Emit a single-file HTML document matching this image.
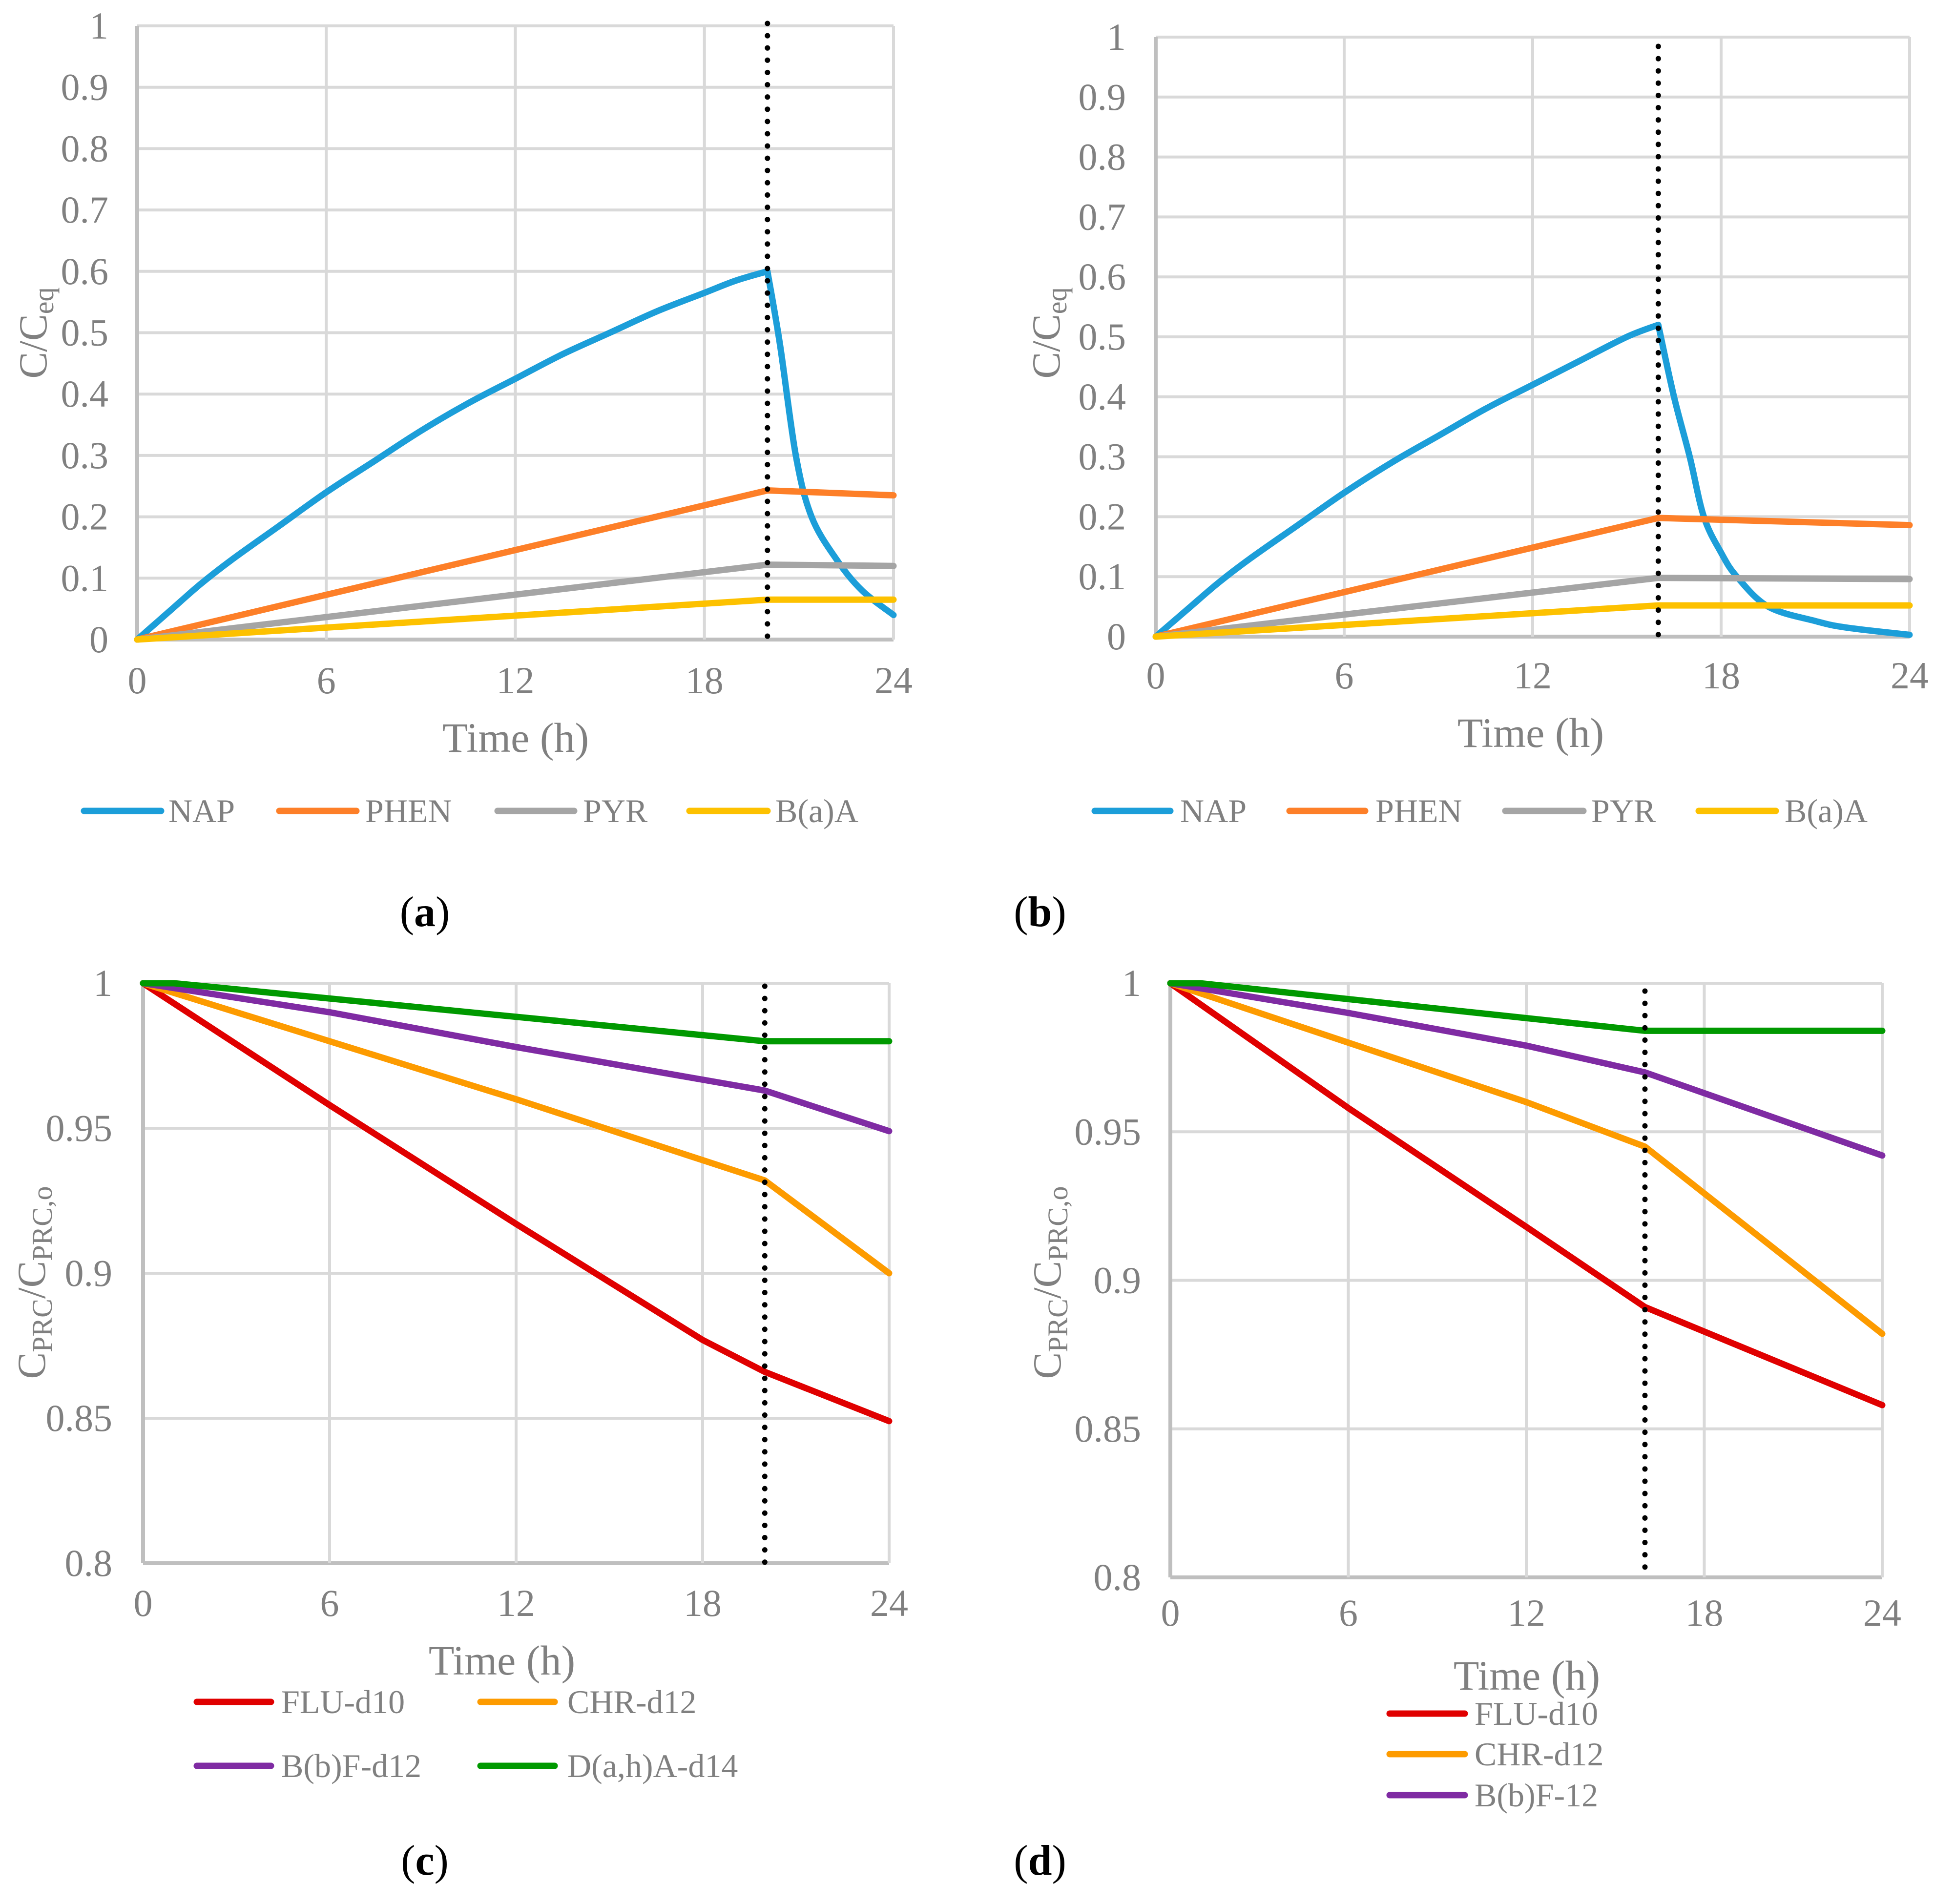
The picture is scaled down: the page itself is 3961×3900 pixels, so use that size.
<!DOCTYPE html>
<html><head><meta charset="utf-8">
<style>
html,body{margin:0;padding:0;background:#fff;}
svg, svg text{font-family:"Liberation Serif","Times New Roman",serif;}
</style></head>
<body>
<svg id="fig" width="3961" height="3895" viewBox="0 0 3961 3895" xmlns="http://www.w3.org/2000/svg" font-family="Liberation Serif, serif"></svg>
<script>
// ---- data ----
const xTicks = [0, 6, 12, 18, 24];
const yTicksTop = [0, 0.1, 0.2, 0.3, 0.4, 0.5, 0.6, 0.7, 0.8, 0.9, 1];
const yTickLabelsTop = ["0","0.1","0.2","0.3","0.4","0.5","0.6","0.7","0.8","0.9","1"];
const yTicksBot = [0.8, 0.85, 0.9, 0.95, 1];
const yTickLabelsBot = ["0.8","0.85","0.9","0.95","1"];

const aNapT = [0, 1, 2, 3, 4.5, 6, 7.5, 9, 10.5, 12, 13.5, 15, 16.5, 18, 19, 20, 20.4, 20.9, 21.4, 22.2, 23, 24];
const aNapV = [0, 0.045, 0.09, 0.13, 0.185, 0.24, 0.29, 0.34, 0.385, 0.425, 0.465, 0.5, 0.535, 0.565, 0.585, 0.6, 0.48, 0.3, 0.2, 0.13, 0.08, 0.04];
const aPhenT = [0, 20, 24]; const aPhenV = [0, 0.243, 0.235];
const aPyrT = [0, 20, 24]; const aPyrV = [0, 0.122, 0.12];
const aBaaT = [0, 20, 24]; const aBaaV = [0, 0.065, 0.065];

const bNapT = [0, 1, 2, 3, 4.5, 6, 7.5, 9, 10.5, 12, 13.5, 15, 16, 16.5, 17, 17.45, 18, 18.5, 19.5, 21, 22, 24];
const bNapV = [0, 0.045, 0.09, 0.13, 0.185, 0.24, 0.29, 0.335, 0.38, 0.42, 0.46, 0.5, 0.52, 0.4, 0.3, 0.2, 0.14, 0.1, 0.05, 0.026, 0.015, 0.003];
const bPhenT = [0, 16, 24]; const bPhenV = [0, 0.198, 0.186];
const bPyrT = [0, 16, 24]; const bPyrV = [0, 0.098, 0.096];
const bBaaT = [0, 16, 24]; const bBaaV = [0, 0.052, 0.052];

const cFluT = [0, 6, 12, 18, 20, 24]; const cFluV = [1, 0.958, 0.917, 0.877, 0.866, 0.849];
const cChrT = [0, 6, 12, 20, 24]; const cChrV = [1, 0.98, 0.96, 0.932, 0.9];
const cBbfT = [0, 6, 12, 20, 24]; const cBbfV = [1, 0.99, 0.978, 0.963, 0.949];
const cDahT = [0, 1, 20, 24]; const cDahV = [1, 1, 0.98, 0.98];

const dFluT = [0, 6, 12, 16, 24]; const dFluV = [1, 0.958, 0.918, 0.891, 0.858];
const dChrT = [0, 6, 12, 16, 24]; const dChrV = [1, 0.98, 0.96, 0.945, 0.882];
const dBbfT = [0, 6, 12, 16, 24]; const dBbfV = [1, 0.99, 0.979, 0.97, 0.942];
const dDahT = [0, 1, 16, 24]; const dDahV = [1, 1, 0.984, 0.984];

const NS = "http://www.w3.org/2000/svg";
const FONT = '"Liberation Serif", "Times New Roman", serif';
const svg = document.getElementById('fig');
function mk(tag, attrs, parent, text){
  const e = document.createElementNS(NS, tag);
  for (const k in attrs) e.setAttribute(k, attrs[k]);
  if (tag === 'text') e.style.fontFamily = FONT;
  if (text !== undefined) e.textContent = text;
  (parent || svg).appendChild(e);
  return e;
}
function smoothPath(pts){
  let d = 'M' + pts[0][0].toFixed(1) + ',' + pts[0][1].toFixed(1);
  for (let i = 0; i < pts.length - 1; i++){
    const p0 = pts[Math.max(i - 1, 0)], p1 = pts[i], p2 = pts[i + 1], p3 = pts[Math.min(i + 2, pts.length - 1)];
    const c1x = p1[0] + (p2[0] - p0[0]) / 6, c1y = p1[1] + (p2[1] - p0[1]) / 6;
    const c2x = p2[0] - (p3[0] - p1[0]) / 6, c2y = p2[1] - (p3[1] - p1[1]) / 6;
    d += ' C' + c1x.toFixed(1) + ',' + c1y.toFixed(1) + ' ' + c2x.toFixed(1) + ',' + c2y.toFixed(1) + ' ' + p2[0].toFixed(1) + ',' + p2[1].toFixed(1);
  }
  return d;
}
function linePath(pts){
  return pts.map((p, i) => (i ? 'L' : 'M') + p[0].toFixed(1) + ',' + p[1].toFixed(1)).join(' ');
}

function chart(cfg){
  const g = mk('g', {});
  
  
  const sx = t => cfg.x0 + t / 24 * (cfg.x1 - cfg.x0);
  const sy = v => cfg.y0 - (v - cfg.ymin) / (cfg.ymax - cfg.ymin) * (cfg.y0 - cfg.y1);
  cfg.yt.forEach((v, i) => {
    const l = mk('line', {x1: cfg.x0, x2: cfg.x1, y1: sy(v), y2: sy(v), stroke: i === 0 ? '#bfbfbf' : '#d9d9d9', 'stroke-width': i === 0 ? 8 : 6}, g);
    
    
    const t = mk('text', {x: cfg.ylx, y: sy(v) + 26, 'text-anchor': 'end', 'font-size': 78, fill: '#808080'}, g, cfg.ytl[i]);
    
    
  });
  xTicks.forEach((v, i) => {
    const l = mk('line', {x1: sx(v), x2: sx(v), y1: cfg.y1, y2: cfg.y0, stroke: i === 0 ? '#bfbfbf' : '#d9d9d9', 'stroke-width': i === 0 ? 8 : 6}, g);
    
    
    const t = mk('text', {x: sx(v), y: cfg.xly, 'text-anchor': 'middle', 'font-size': 78, fill: '#808080'}, g, String(v));
    
    
  });
  cfg.series.forEach(s => {
    const pts = s.t.map((t, i) => [sx(t), sy(s.v[i])]);
    let d;
    if (s.smooth) {
      const k = s.t.indexOf(cfg.cut);
      d = smoothPath(pts.slice(0, k + 1)) + ' ' + smoothPath(pts.slice(k)).replace(/^M[^ ]+/, '');
    } else d = linePath(pts);
    const p = mk('path', {d: d, fill: 'none', stroke: s.c, 'stroke-width': 13, 'stroke-linejoin': 'round', 'stroke-linecap': 'round'}, g);
    
    
  });
  const dl = mk('line', {x1: sx(cfg.cut), x2: sx(cfg.cut), y1: cfg.dtop, y2: cfg.y0, stroke: '#000', 'stroke-width': 11, 'stroke-linecap': 'round', 'stroke-dasharray': '0.1 25'}, g);
  
  
  const xt = mk('text', {x: cfg.xtx, y: cfg.xty, 'text-anchor': 'middle', 'font-size': 86, fill: '#808080'}, g, 'Time (h)');
  
  
  const yt = mk('text', {transform: 'translate(' + cfg.ytx + ',' + cfg.yty + ') rotate(-90)', 'text-anchor': 'middle', 'font-size': 82, fill: '#808080'}, g);
  
  
  cfg.ytitle.forEach(part => {
    mk('tspan', part.sub ? {'font-size': 58, dy: 14} : {dy: part.dy || 0}, yt, part.s);
  });
  cfg.legend.forEach(L => {
    const lg = mk('g', {}, g);
    
    
    mk('line', {x1: L.lx1, x2: L.lx2, y1: L.y, y2: L.y, stroke: L.c, 'stroke-width': 13, 'stroke-linecap': 'round'}, lg);
    mk('text', {x: L.tx, y: L.y + 23, 'font-size': 68, fill: '#808080'}, lg, L.n);
  });
  const pl = mk('text', {x: cfg.plx, y: cfg.ply, 'text-anchor': 'middle', 'font-size': 88, fill: '#000'}, g);
  
  
  mk('tspan', {}, pl, '(');
  mk('tspan', {'font-weight': 'bold'}, pl, cfg.label);
  mk('tspan', {}, pl, ')');
}

const ceq = [{s: 'C/C'}, {s: 'eq', sub: true}];
const cprc = [{s: 'C'}, {s: 'PRC', sub: true}, {s: '/C', dy: -14}, {s: 'PRC,o', sub: true}];

chart({name: 'chart-a', label: 'a', x0: 281, x1: 1830, y0: 1310, y1: 53, ymin: 0, ymax: 1, yt: yTicksTop, ytl: yTickLabelsTop, dtop: 48,
  ylx: 222, xly: 1420, xtx: 1056, xty: 1540, ytx: 95, yty: 682, ytitle: ceq, cut: 20, plx: 870, ply: 1897,
  series: [{n: 'NAP', t: aNapT, v: aNapV, c: '#1c9ed9', smooth: true}, {n: 'PHEN', t: aPhenT, v: aPhenV, c: '#fd7f28'}, {n: 'PYR', t: aPyrT, v: aPyrV, c: '#a5a5a5'}, {n: 'BaA', t: aBaaT, v: aBaaV, c: '#fdc100'}],
  legend: [{n: 'NAP', c: '#1c9ed9', lx1: 172, lx2: 330, tx: 345, y: 1661}, {n: 'PHEN', c: '#fd7f28', lx1: 572, lx2: 730, tx: 748, y: 1661}, {n: 'PYR', c: '#a5a5a5', lx1: 1019, lx2: 1176, tx: 1194, y: 1661}, {n: 'B(a)A', c: '#fdc100', lx1: 1412, lx2: 1572, tx: 1588, y: 1661}]});

chart({name: 'chart-b', label: 'b', x0: 2367, x1: 3911, y0: 1304, y1: 76, ymin: 0, ymax: 1, yt: yTicksTop, ytl: yTickLabelsTop, dtop: 95,
  ylx: 2306, xly: 1410, xtx: 3135, xty: 1530, ytx: 2170, yty: 682, ytitle: ceq, cut: 16, plx: 2130, ply: 1897,
  series: [{n: 'NAP', t: bNapT, v: bNapV, c: '#1c9ed9', smooth: true}, {n: 'PHEN', t: bPhenT, v: bPhenV, c: '#fd7f28'}, {n: 'PYR', t: bPyrT, v: bPyrV, c: '#a5a5a5'}, {n: 'BaA', t: bBaaT, v: bBaaV, c: '#fdc100'}],
  legend: [{n: 'NAP', c: '#1c9ed9', lx1: 2242, lx2: 2397, tx: 2417, y: 1661}, {n: 'PHEN', c: '#fd7f28', lx1: 2641, lx2: 2796, tx: 2817, y: 1661}, {n: 'PYR', c: '#a5a5a5', lx1: 3083, lx2: 3243, tx: 3259, y: 1661}, {n: 'B(a)A', c: '#fdc100', lx1: 3479, lx2: 3637, tx: 3655, y: 1661}]});

chart({name: 'chart-c', label: 'c', x0: 293, x1: 1821, y0: 3202, y1: 2014, ymin: 0.8, ymax: 1, yt: yTicksBot, ytl: yTickLabelsBot, dtop: 2020,
  ylx: 230, xly: 3310, xtx: 1028, xty: 3430, ytx: 92, yty: 2627, ytitle: cprc, cut: 20, plx: 870, ply: 3840,
  series: [{n: 'FLU-d10', t: cFluT, v: cFluV, c: '#e00000'}, {n: 'CHR-d12', t: cChrT, v: cChrV, c: '#fd9b00'}, {n: 'BbF-d12', t: cBbfT, v: cBbfV, c: '#7f2ba3'}, {n: 'DahA-d14', t: cDahT, v: cDahV, c: '#009900'}],
  legend: [{n: 'FLU-d10', c: '#e00000', lx1: 403, lx2: 555, tx: 576, y: 3486}, {n: 'CHR-d12', c: '#fd9b00', lx1: 984, lx2: 1136, tx: 1162, y: 3486}, {n: 'B(b)F-d12', c: '#7f2ba3', lx1: 403, lx2: 555, tx: 576, y: 3617}, {n: 'D(a,h)A-d14', c: '#009900', lx1: 984, lx2: 1136, tx: 1162, y: 3617}]});

chart({name: 'chart-d', label: 'd', x0: 2397, x1: 3855, y0: 3231, y1: 2014, ymin: 0.8, ymax: 1, yt: yTicksBot, ytl: yTickLabelsBot, dtop: 2030,
  ylx: 2337, xly: 3330, xtx: 3127, xty: 3461, ytx: 2172, yty: 2627, ytitle: cprc, cut: 16, plx: 2130, ply: 3840,
  series: [{n: 'FLU-d10', t: dFluT, v: dFluV, c: '#e00000'}, {n: 'CHR-d12', t: dChrT, v: dChrV, c: '#fd9b00'}, {n: 'BbF-12', t: dBbfT, v: dBbfV, c: '#7f2ba3'}, {n: 'DahA-d14', t: dDahT, v: dDahV, c: '#009900'}],
  legend: [{n: 'FLU-d10', c: '#e00000', lx1: 2846, lx2: 3000, tx: 3020, y: 3510}, {n: 'CHR-d12', c: '#fd9b00', lx1: 2846, lx2: 3000, tx: 3020, y: 3593}, {n: 'B(b)F-12', c: '#7f2ba3', lx1: 2846, lx2: 3000, tx: 3020, y: 3677}]});
</script>
</body></html>
